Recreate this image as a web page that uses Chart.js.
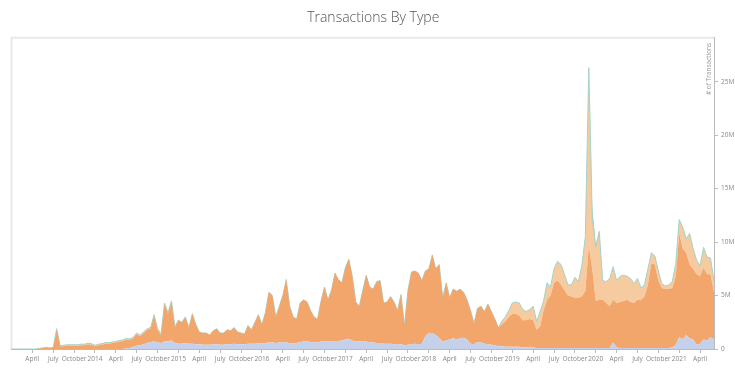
<!DOCTYPE html>
<html><head><meta charset="utf-8">
<script src="https://cdn.jsdelivr.net/npm/chart.js@4"></script>
<style>html,body{margin:0;padding:0;background:#fff;}#wrap{width:735px;height:369px;position:relative}</style>
</head><body><div id="wrap"><canvas id="c"></canvas></div>
<script>
// Half-month periods since January 2013 (x = months since 2013-01)
const months = Array.from({length: 203}, (_, i) => i / 2);

// Quarterly tick positions (months since Jan 2013) and labels
const tickMonths = [3,6,9,12,15,18,21,24,27,30,33,36,39,42,45,48,51,54,57,60,63,66,69,72,75,78,81,84,87,90,93,96,99];
const tickLabels = ['April','July','October','2014','April','July','October','2015','April','July','October','2016','April','July','October','2017','April','July','October','2018','April','July','October','2019','April','July','October','2020','April','July','October','2021','April'];

// Y ticks (millions of transactions)
const yTickValues = [0,5,10,15,20,25];
const yTickLabels = ['0','5M','10M','15M','20M','25M'];

// Series values, millions of transactions per period (stack layers, bottom to top)
const blueSeries = [
  0,0,0,0,0,0,0,0,0,0,0,0,0,0,0,0,0,0,0,0,0,0,0,0,
  0,0,0,0,0,0,0,0,0,0.05,0.1,0.2,0.3,0.35,0.45,0.55,0.65,0.7,0.6,0.55,0.7,0.75,0.8,0.55,
  0.5,0.5,0.55,0.5,0.5,0.45,0.45,0.4,0.4,0.4,0.45,0.45,0.4,0.4,0.45,0.45,0.5,0.45,0.45,0.45,0.5,0.5,0.5,0.55,
  0.5,0.55,0.6,0.6,0.55,0.6,0.65,0.6,0.55,0.5,0.55,0.65,0.7,0.7,0.65,0.6,0.6,0.7,0.75,0.7,0.7,0.75,0.75,0.8,
  0.9,0.95,0.8,0.7,0.7,0.75,0.7,0.6,0.6,0.55,0.55,0.5,0.5,0.5,0.45,0.4,0.45,0.35,0.4,0.45,0.5,0.45,0.5,1.2,
  1.5,1.5,1.3,1.0,0.7,0.8,0.9,1.0,0.9,1.0,1.05,0.9,0.5,0.45,0.65,0.6,0.5,0.45,0.4,0.35,0.25,0.25,0.2,0.2,
  0.2,0.2,0.2,0.15,0.15,0.2,0.15,0.1,0.1,0.1,0.1,0.1,0.1,0.1,0.1,0.1,0.1,0.1,0.1,0.1,0.1,0.1,0.1,0.1,
  0.1,0.1,0.1,0.1,0.1,0.6,0.15,0.1,0.1,0.1,0.1,0.1,0.1,0.1,0.1,0.1,0.1,0.1,0.1,0.1,0.1,0.1,0.15,0.4,
  1.1,0.9,1.3,1.0,0.9,0.4,0.5,0.9,0.8,1.1,0.9
];
const orangeSeries = [
  0,0,0,0,0,0,0,0,0.05,0.1,0.15,0.1,0.15,1.8,0.25,0.25,0.3,0.3,0.3,0.3,0.35,0.35,0.45,0.4,
  0.25,0.35,0.4,0.5,0.5,0.55,0.6,0.7,0.75,0.85,0.75,0.8,1.1,0.85,1.05,1.25,1.25,2.4,1.2,0.75,3.5,2.55,3.6,1.45,
  2.2,2.0,2.45,1.5,2.8,1.85,1.15,1.1,1.1,0.9,1.25,1.45,1.1,1.1,1.35,1.25,1.5,1.15,1.05,0.95,1.7,1.3,2.0,2.65,
  1.8,2.85,4.7,4.4,2.45,3.4,4.35,5.9,3.45,2.5,2.25,3.65,3.9,3.7,2.95,2.4,2.2,3.8,5.05,3.9,4.8,6.35,5.75,5.4,
  6.7,7.45,6.0,3.7,3.3,4.75,6.2,5.2,5.0,5.75,5.85,3.8,3.9,4.4,3.95,3.2,4.65,1.85,5.1,6.75,6.8,6.65,5.9,6.1,
  6.0,7.3,6.2,6.9,4.1,5.4,3.9,4.6,4.5,4.6,4.25,3.7,3.1,1.95,3.15,3.4,3.0,3.75,3.1,2.45,1.75,2.05,2.4,2.8,
  3.1,3.1,2.9,2.55,2.55,2.6,2.55,1.7,2.0,3.5,4.5,4.9,6.1,6.3,5.9,5.4,4.9,4.8,4.7,4.7,4.8,5.3,9.5,7.4,
  4.4,4.5,4.5,4.2,3.9,4.0,4.15,4.3,4.4,4.5,4.3,4.2,4.5,4.5,4.8,5.9,7.9,7.8,6.3,5.6,5.5,5.5,5.55,6.4,
  9.7,8.5,7.7,6.9,6.6,6.6,6.3,6.7,6.2,5.9,4.4
];
const peachSeries = [
  0,0,0,0,0,0,0,0,0,0,0,0,0,0.1,0.05,0.1,0.1,0.1,0.1,0.1,0.1,0.1,0.1,0.1,
  0.1,0.1,0.1,0.1,0.1,0.1,0.1,0.1,0.1,0.1,0.1,0.1,0.1,0.1,0.1,0.1,0.1,0.1,0.1,0.1,0.1,0.1,0.1,0.1,
  0,0,0,0,0,0,0,0,0,0,0,0,0,0,0,0,0,0,0,0,0,0,0,0,
  0,0,0,0,0,0,0,0,0,0,0,0,0,0,0,0,0,0,0,0,0,0,0,0,
  0,0,0,0,0,0,0,0,0,0,0,0,0,0,0,0,0,0,0,0,0,0,0,0,
  0,0,0,0,0,0,0,0,0,0,0,0,0,0,0,0,0,0,0,0,0,0.3,0.4,0.6,
  1.0,1.1,1.2,1.0,0.8,0.9,1.3,0.8,1.4,0.9,1.6,0.8,1.3,1.8,1.9,1.5,1.0,1.1,1.9,1.5,2.9,5.1,16.7,4.7,
  5.0,6.4,1.8,2.0,2.6,3.1,2.1,2.4,2.4,2.2,2.2,1.8,2.0,1.1,1.1,1.5,1.0,0.8,0.9,0.4,0.3,0.4,0.6,1.2,
  1.3,2.0,1.3,2.9,1.9,1.3,1.0,1.9,1.6,1.5,1.1
];
const greenSeries = [
  0,0,0,0,0,0,0,0,0,0,0,0,0,0,0,0,0,0,0,0,0,0,0,0,
  0,0,0,0,0,0,0,0,0,0,0,0,0,0,0,0,0,0,0,0,0,0,0,0,
  0,0,0,0,0,0,0,0,0,0,0,0,0,0,0,0,0,0,0,0,0,0,0,0,
  0,0,0,0,0,0,0,0,0,0,0,0,0,0,0,0,0,0,0,0,0,0,0,0,
  0,0,0,0,0,0,0,0,0,0,0,0,0,0,0,0,0,0,0,0,0,0,0,0,
  0,0,0,0,0,0,0,0,0,0,0,0,0,0,0,0,0,0,0,0,0,0,0,0,
  0,0,0,0,0,0,0,0,0,0,0,0,0,0,0,0,0,0,0,0,0,0,0,1.0,
  0.2,0,0,0,0,0,0,0,0,0,0,0,0,0,0,0,0,0,0,0,0,0,0,0,
  0,0,0,0,0,0,0,0,0,0,0
];

const pts = arr => months.map((m, i) => ({x: m, y: arr[i]}));
const TICK_FONT = {family: '"Open Sans", sans-serif', size: 6.5};

const framePlugin = {
  id: 'frame',
  beforeDatasetsDraw(chart) {
    const {ctx, chartArea: a} = chart;
    ctx.save();
    ctx.strokeStyle = '#e9e9e9';
    ctx.lineWidth = 2;
    ctx.beginPath();
    ctx.moveTo(a.left, a.bottom);
    ctx.lineTo(a.left, a.top);
    ctx.lineTo(a.right, a.top);
    ctx.stroke();
    ctx.restore();
  }
};
const axisTitlePlugin = {
  id: 'axisTitle',
  afterDraw(chart) {
    const {ctx, chartArea: a} = chart;
    ctx.save();
    ctx.translate(a.right - 5, a.top + 5);
    ctx.rotate(-Math.PI / 2);
    ctx.font = '6.5px "Open Sans", sans-serif';
    ctx.fillStyle = '#999';
    ctx.textAlign = 'right';
    ctx.textBaseline = 'middle';
    ctx.fillText('# of Transactions', 0, 0);
    ctx.restore();
  }
};

const line = (label, data, bg, fill, border, bw) => ({
  label, data: pts(data), backgroundColor: bg, borderColor: border || 'rgba(0,0,0,0)',
  borderWidth: bw || 0, fill, pointRadius: 0, tension: 0
});

new Chart(document.getElementById('c'), {
  type: 'line',
  data: {
    datasets: [
      line('Type A', blueSeries, '#c5d1ea', 'origin'),
      line('Type B', orangeSeries, '#f2a66b', '-1'),
      line('Type C', peachSeries, '#f6cb9f', '-1', '#a2d3cc', 1),
      line('Type D', greenSeries, '#8cc68a', '-1')
    ]
  },
  options: {
    responsive: true, maintainAspectRatio: false, animation: false, devicePixelRatio: 1,
    layout: {padding: {left: 11.5, right: 0, top: 0, bottom: 0}},
    plugins: {
      legend: {display: false},
      tooltip: {enabled: false},
      title: {
        display: true, text: 'Transactions By Type', color: '#555',
        font: {family: '"Open Sans", sans-serif', size: 14, weight: '300'},
        padding: {top: 10, bottom: 11}
      }
    },
    scales: {
      x: {
        type: 'linear', min: 0, max: 101,
        afterBuildTicks: s => { s.ticks = tickMonths.map(v => ({value: v})); },
        afterFit: s => { s.height = 20; },
        ticks: {autoSkip: false, maxRotation: 0, minRotation: 0, font: TICK_FONT, color: '#888', padding: 2,
                callback: (v, i) => tickLabels[i]},
        grid: {drawOnChartArea: false, drawTicks: true, tickLength: 4, color: '#bbb'},
        border: {display: true, color: '#bbb'}
      },
      y: {
        type: 'linear', position: 'right', stacked: true, min: 0, max: 29.1,
        afterBuildTicks: s => { s.ticks = yTickValues.map(v => ({value: v})); },
        afterFit: s => { s.width = 21; },
        ticks: {font: TICK_FONT, color: '#888', padding: 3, callback: (v, i) => yTickLabels[i]},
        grid: {drawOnChartArea: false, drawTicks: true, tickLength: 4, color: '#bbb'},
        border: {display: true, color: '#bbb'}
      }
    }
  },
  plugins: [framePlugin, axisTitlePlugin]
});
</script></body></html>
